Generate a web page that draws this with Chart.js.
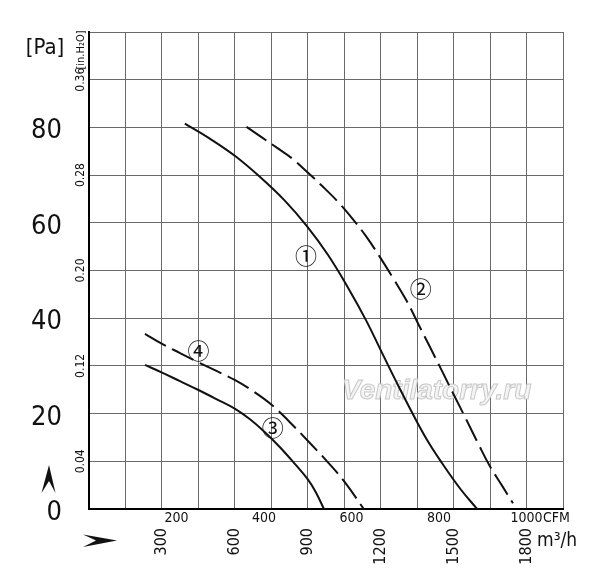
<!DOCTYPE html>
<html>
<head>
<meta charset="utf-8">
<script src="https://cdn.jsdelivr.net/npm/chart.js@4/dist/chart.umd.min.js"></script>
<style>
html,body{margin:0;padding:0;background:#fff;}
#wrap{width:600px;height:586px;position:relative;}
</style>
</head>
<body>
<div id="wrap"><canvas id="c"></canvas></div>
<script>
// ---- grid / tick definitions ----
const gridCols = 13;                 // vertical grid columns
const cfmPerGrid = 1000 / 12;        // CFM per grid column
const xMax = gridCols * cfmPerGrid;  // right edge of plot in CFM
const paGridStep = 10;
const paMax = 100;

const paTicks = [0, 20, 40, 60, 80];
const inH2OTicks = [0.04, 0.12, 0.20, 0.28, 0.36];
const inH2OMax = 0.40;
const cfmTicks = [200, 400, 600, 800, 1000];
const m3hTicks = [300, 600, 900, 1200, 1500, 1800];
const m3hTickCfm = [166.7, 333.3, 500, 666.7, 833.3, 1000]; // CFM where printed m3/h labels sit

// ---- curve data (x = CFM, y = Pa) ----
const curve1Cfm = [219, 277, 334, 391, 448, 498, 546, 592, 633, 672, 711, 750, 779, 807, 848, 887];
const curve1Pa  = [80.8, 77.6, 74.0, 69.6, 64.6, 59.3, 53.3, 46.4, 39.6, 32.3, 25.1, 18.2, 13.5, 9.6, 4.3, 0];

const curve2Cfm = [360, 395, 430, 464, 498, 533, 569, 601, 633, 665, 695, 725, 752, 779, 807, 834, 862, 889, 916, 944, 969];
const curve2Pa  = [80.1, 77.9, 75.7, 73.5, 70.7, 67.7, 64.4, 61.0, 57.2, 52.8, 48.4, 43.8, 38.9, 34.0, 28.9, 23.9, 18.8, 13.8, 9.0, 4.9, 1.2];

const curve3Cfm = [128, 167, 208, 249, 290, 334, 368, 402, 437, 471, 501, 519, 537];
const curve3Pa  = [30.2, 28.6, 26.8, 25.0, 23.1, 21.0, 18.8, 16.1, 12.9, 9.4, 6.1, 3.4, 0];

const curve4Cfm = [128, 167, 208, 249, 290, 334, 375, 418, 459, 501, 544, 585, 628];
const curve4Pa  = [36.7, 34.6, 32.7, 30.8, 29.0, 27.0, 24.7, 21.8, 18.2, 14.2, 10.0, 5.6, 0];

// curve name markers
const curveNames   = ['\u2460', '\u2461', '\u2462', '\u2463'];
const curveNameCfm = [496, 758, 420, 250];
const curveNamePa  = [53.2, 46.3, 17.1, 33.3];

const NARROW = "'Liberation Sans Narrow', 'DejaVu Sans Condensed', 'Roboto Condensed', sans-serif";
const pts = (xs, ys) => xs.map((x, i) => ({x: x, y: ys[i]}));

const decor = {
  id: 'decor',
  beforeDatasetsDraw(chart) {
    const ctx = chart.ctx;
    ctx.save();
    ctx.font = "italic bold 28px 'Liberation Sans', Arial, sans-serif";
    ctx.textBaseline = 'alphabetic';
    ctx.textAlign = 'left';
    ctx.fillStyle = '#f4f4f4';
    ctx.strokeStyle = '#c8c8c8';
    ctx.lineWidth = 1;
    ctx.fillText('Ventilatorry.ru', 342, 399);
    ctx.strokeText('Ventilatorry.ru', 342, 399);
    ctx.restore();
  },
  afterDatasetsDraw(chart) {
    const ctx = chart.ctx;
    const xs = chart.scales.x, ys = chart.scales.y;
    ctx.save();
    ctx.fillStyle = '#111';
    ctx.textAlign = 'center';
    ctx.textBaseline = 'middle';
    ctx.font = "22px 'Noto Sans CJK JP', 'DejaVu Sans', sans-serif";
    curveNames.forEach((n, i) => {
      ctx.fillText(n, xs.getPixelForValue(curveNameCfm[i]), ys.getPixelForValue(curveNamePa[i]));
    });
    ctx.restore();
  },
  afterDraw(chart) {
    const ctx = chart.ctx;
    ctx.save();
    ctx.fillStyle = '#111';
    // [Pa]
    ctx.font = "22px " + NARROW;
    ctx.textAlign = 'center';
    ctx.textBaseline = 'middle';
    ctx.fillText('[Pa]', 45, 48);
    // [in.H2O] rotated
    ctx.save();
    ctx.translate(81, 50);
    ctx.rotate(-Math.PI / 2);
    ctx.font = "11px " + NARROW;
    ctx.fillText('[in.H\u2082O]', 0, 0);
    ctx.restore();
    // CFM
    ctx.font = "14px " + NARROW;
    ctx.textAlign = 'left';
    ctx.fillText('CFM', 543, 518);
    // m3/h
    ctx.font = "19px " + NARROW;
    ctx.fillText('m\u00B3/h', 537, 541);
    // arrows
    ctx.beginPath();
    ctx.moveTo(49, 465); ctx.lineTo(41.5, 493); ctx.lineTo(49, 481); ctx.lineTo(55.5, 493); ctx.closePath();
    ctx.fill();
    ctx.beginPath();
    ctx.moveTo(117, 540.5); ctx.lineTo(83, 534.5); ctx.lineTo(96, 540.5); ctx.lineTo(83, 547); ctx.closePath();
    ctx.fill();
    ctx.restore();
  }
};

const lineStyle = (dash) => ({
  borderColor: '#111',
  borderWidth: 2,
  borderDash: dash,
  pointRadius: 0,
  fill: false,
  tension: 0.4,
  xAxisID: 'x',
  yAxisID: 'y'
});

new Chart(document.getElementById('c'), {
  type: 'line',
  data: {
    datasets: [
      Object.assign({label: '1', data: pts(curve1Cfm, curve1Pa)}, lineStyle([])),
      Object.assign({label: '2', data: pts(curve2Cfm, curve2Pa)}, lineStyle([24, 7])),
      Object.assign({label: '3', data: pts(curve3Cfm, curve3Pa)}, lineStyle([])),
      Object.assign({label: '4', data: pts(curve4Cfm, curve4Pa)}, lineStyle([24, 7]))
    ]
  },
  options: {
    responsive: true,
    maintainAspectRatio: false,
    animation: false,
    layout: {padding: {left: 0, top: 32, right: 37, bottom: 8}},
    plugins: {legend: {display: false}, tooltip: {enabled: false}},
    scales: {
      x: {
        type: 'linear', position: 'bottom', min: 0, max: xMax, weight: 0,
        afterBuildTicks: s => { s.ticks = Array.from({length: gridCols + 1}, (_, i) => ({value: i * cfmPerGrid})); },
        ticks: {display: false},
        grid: {color: '#6a6a6a', lineWidth: 1, drawTicks: false},
        border: {color: '#000', width: 2},
        afterFit: s => { s.height = 0; }
      },
      xCfm: {
        type: 'linear', position: 'bottom', min: 0, max: xMax, weight: 1,
        afterBuildTicks: s => { s.ticks = cfmTicks.map(v => ({value: v})); },
        ticks: {font: {family: NARROW, size: 14}, color: '#111', padding: 1, maxRotation: 0, autoSkip: false,
                callback: v => String(v)},
        grid: {display: false, drawTicks: false},
        border: {display: false},
        afterFit: s => { s.height = 18; }
      },
      xM3: {
        type: 'linear', position: 'bottom', min: 0, max: xMax, weight: 2,
        afterBuildTicks: s => { s.ticks = m3hTickCfm.map(v => ({value: v})); },
        ticks: {font: {family: NARROW, size: 16}, color: '#111', padding: 1, minRotation: 90, maxRotation: 90, autoSkip: false,
                callback: (v, i) => String(m3hTicks[i])},
        grid: {display: false, drawTicks: false},
        border: {display: false},
        afterFit: s => { s.height = 51; }
      },
      y: {
        type: 'linear', position: 'left', min: 0, max: paMax, weight: 0,
        afterBuildTicks: s => { s.ticks = Array.from({length: paMax / paGridStep + 1}, (_, i) => ({value: i * paGridStep})); },
        ticks: {display: false},
        grid: {color: '#6a6a6a', lineWidth: 1, drawTicks: false},
        border: {color: '#000', width: 2},
        afterFit: s => { s.width = 0; }
      },
      yIn: {
        type: 'linear', position: 'left', min: 0, max: inH2OMax, weight: 1,
        afterBuildTicks: s => { s.ticks = inH2OTicks.map(v => ({value: v})); },
        ticks: {font: {family: NARROW, size: 12}, color: '#111', padding: -4, minRotation: 90, maxRotation: 90,
                crossAlign: 'center', autoSkip: false, callback: v => v.toFixed(2)},
        grid: {display: false, drawTicks: false},
        border: {display: false},
        afterFit: s => { s.width = 21; }
      },
      yPa: {
        type: 'linear', position: 'left', min: 0, max: paMax, weight: 2,
        afterBuildTicks: s => { s.ticks = paTicks.map(v => ({value: v})); },
        ticks: {font: {family: NARROW, size: 27}, color: '#111', padding: 6, labelOffset: 4, autoSkip: false,
                callback: v => String(v)},
        grid: {display: false, drawTicks: false},
        border: {display: false},
        afterFit: s => { s.width = 68; }
      }
    }
  },
  plugins: [decor]
});
</script>
</body>
</html>
